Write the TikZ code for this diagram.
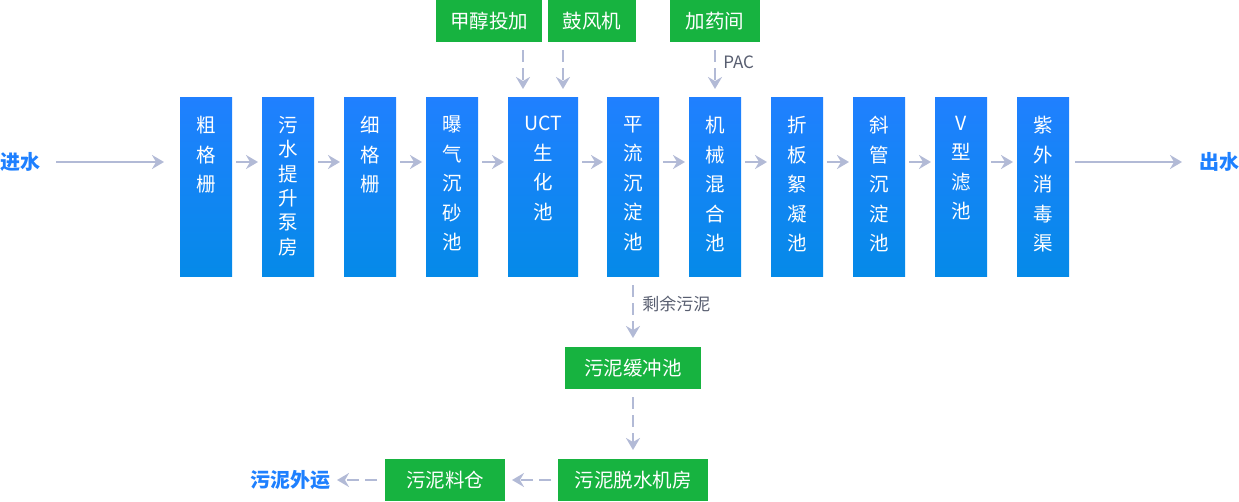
\documentclass[tikz,border=0pt]{standalone}
\usepackage{fontspec}
\setmainfont{Noto Sans CJK SC}
\usetikzlibrary{arrows.meta,positioning}

\definecolor{stagetop}{RGB}{32,128,255}
\definecolor{stagebottom}{RGB}{5,138,232}
\definecolor{unitgreen}{RGB}{23,179,64}
\definecolor{flowline}{RGB}{178,186,214}
\definecolor{notegray}{RGB}{88,94,112}
\definecolor{endblue}{RGB}{30,128,255}

\tikzset{
  stage/.style={minimum width=52pt, minimum height=179pt, inner sep=0pt, outer sep=0pt, top color=stagetop, bottom color=stagebottom},
  stagetext/.style={anchor=north, align=center, inner sep=0pt, text=white, font=\fontsize{19.5}{29.5}\selectfont},
  unit/.style={fill=unitgreen, text=white, minimum height=42pt, inner sep=0pt, outer sep=0pt, font=\fontsize{19.5}{24}\selectfont},
  endpoint/.style={inner sep=0pt, outer sep=0pt, text=endblue, font=\fontsize{20}{24}\selectfont\bfseries},
  note/.style={text=notegray, inner sep=0pt, font=\fontsize{17}{20}\selectfont},
  flow/.style={-{Stealth[length=12pt,width=14pt,inset=4pt]}, line width=2.5pt, flowline},
  feed/.style={flow, dash pattern=on 12pt off 6pt}
}

\begin{document}
\begin{tikzpicture}[x=1pt,y=-1pt]
        \useasboundingbox (0,0) rectangle (1239,501);
        % main line
        \node[stage] (coarse) at (206,186.5) {};
        \node[stage, right = 30pt of coarse] (lift) {};
        \node[stage, right = 30pt of lift] (fine) {};
        \node[stage, right = 30pt of fine] (grit) {};
        \node[stage, right = 30pt of grit, minimum width=70pt] (uct) {};
        \node[stage, right = 29pt of uct] (sed) {};
        \node[stage, right = 30pt of sed] (mix) {};
        \node[stage, right = 30pt of mix] (floc) {};
        \node[stage, right = 30pt of floc] (tube) {};
        \node[stage, right = 30pt of tube] (vfilter) {};
        \node[stage, right = 30pt of vfilter] (uv) {};
        \node[stagetext] (coarsetext) at ([yshift=-19pt]coarse.north) {粗\\格\\栅};
        \node[stagetext, font=\fontsize{19.5}{24.4}\selectfont] (lifttext) at ([yshift=-19pt]lift.north) {污\\水\\提\\升\\泵\\房};
        \node[stagetext] (finetext) at ([yshift=-19pt]fine.north) {细\\格\\栅};
        \node[stagetext] (grittext) at ([yshift=-19pt]grit.north) {曝\\气\\沉\\砂\\池};
        \node[stagetext] (ucttext) at ([yshift=-19pt]uct.north) {UCT\\生\\化\\池};
        \node[stagetext] (sedtext) at ([yshift=-19pt]sed.north) {平\\流\\沉\\淀\\池};
        \node[stagetext] (mixtext) at ([yshift=-19pt]mix.north) {机\\械\\混\\合\\池};
        \node[stagetext] (floctext) at ([yshift=-19pt]floc.north) {折\\板\\絮\\凝\\池};
        \node[stagetext] (tubetext) at ([yshift=-19pt]tube.north) {斜\\管\\沉\\淀\\池};
        \node[stagetext] (vfiltertext) at ([yshift=-19pt]vfilter.north) {V\\型\\滤\\池};
        \node[stagetext] (uvtext) at ([yshift=-19pt]uv.north) {紫\\外\\消\\毒\\渠};
        \node[endpoint, anchor=west] (inwater) at (0,162) {进水};
        \node[endpoint, anchor=east] (outwater) at (1239,162) {出水};
        \draw[flow] ([xshift=16pt]inwater.east) -- ([xshift=-16pt,yshift=24.5pt]coarse.west);
        \draw[flow] ([xshift=4pt,yshift=24.5pt]coarse.east) -- ([xshift=-4pt,yshift=24.5pt]lift.west);
        \draw[flow] ([xshift=4pt,yshift=24.5pt]lift.east) -- ([xshift=-4pt,yshift=24.5pt]fine.west);
        \draw[flow] ([xshift=4pt,yshift=24.5pt]fine.east) -- ([xshift=-4pt,yshift=24.5pt]grit.west);
        \draw[flow] ([xshift=4pt,yshift=24.5pt]grit.east) -- ([xshift=-4pt,yshift=24.5pt]uct.west);
        \draw[flow] ([xshift=4pt,yshift=24.5pt]uct.east) -- ([xshift=-4pt,yshift=24.5pt]sed.west);
        \draw[flow] ([xshift=4pt,yshift=24.5pt]sed.east) -- ([xshift=-4pt,yshift=24.5pt]mix.west);
        \draw[flow] ([xshift=4pt,yshift=24.5pt]mix.east) -- ([xshift=-4pt,yshift=24.5pt]floc.west);
        \draw[flow] ([xshift=4pt,yshift=24.5pt]floc.east) -- ([xshift=-4pt,yshift=24.5pt]tube.west);
        \draw[flow] ([xshift=4pt,yshift=24.5pt]tube.east) -- ([xshift=-4pt,yshift=24.5pt]vfilter.west);
        \draw[flow] ([xshift=4pt,yshift=24.5pt]vfilter.east) -- ([xshift=-4pt,yshift=24.5pt]uv.west);
        \draw[flow] ([xshift=6pt,yshift=24.5pt]uv.east) -- ([xshift=-17pt]outwater.west);
        % feeds from above
        \node[unit, minimum width=106pt] (methanol) at (489,21) {甲醇投加};
        \node[unit, minimum width=88pt, right = 6pt of methanol] (blower) {鼓风机};
        \node[unit, minimum width=90pt, above = 55pt of mix] (dosing) {加药间};
        \draw[feed] ([xshift=-20pt,yshift=-8pt]uct.north |- methanol.south) -- ([xshift=-20pt,yshift=8pt]uct.north);
        \draw[feed] ([xshift=20pt,yshift=-8pt]uct.north |- blower.south) -- ([xshift=20pt,yshift=8pt]uct.north);
        \draw[feed] ([yshift=-8pt]dosing.south) -- node[note, pos=0.31, right=7pt] (pac) {PAC} ([yshift=8pt]mix.north);
        % sludge line
        \node[unit, minimum width=136pt, below = 71pt of sed] (buffer) {污泥缓冲池};
        \node[unit, minimum width=150pt, below = 70pt of buffer] (dewater) {污泥脱水机房};
        \node[unit, minimum width=120pt, left = 53pt of dewater] (silo) {污泥料仓};
        \node[endpoint, left = 55pt of silo] (sludgeout) {污泥外运};
        \draw[feed] ([yshift=-9pt]sed.south) -- node[note, pos=0.36, right=8pt] (surplus) {剩余污泥} ([yshift=9pt]buffer.north);
        \draw[feed] ([yshift=-8pt]buffer.south) -- ([yshift=9pt]dewater.north);
        \draw[feed] ([xshift=-7pt]dewater.west) -- ([xshift=7pt]silo.east);
        \draw[feed] ([xshift=-8pt]silo.west) -- ([xshift=7pt]sludgeout.east);
      \end{tikzpicture}
\end{document}
